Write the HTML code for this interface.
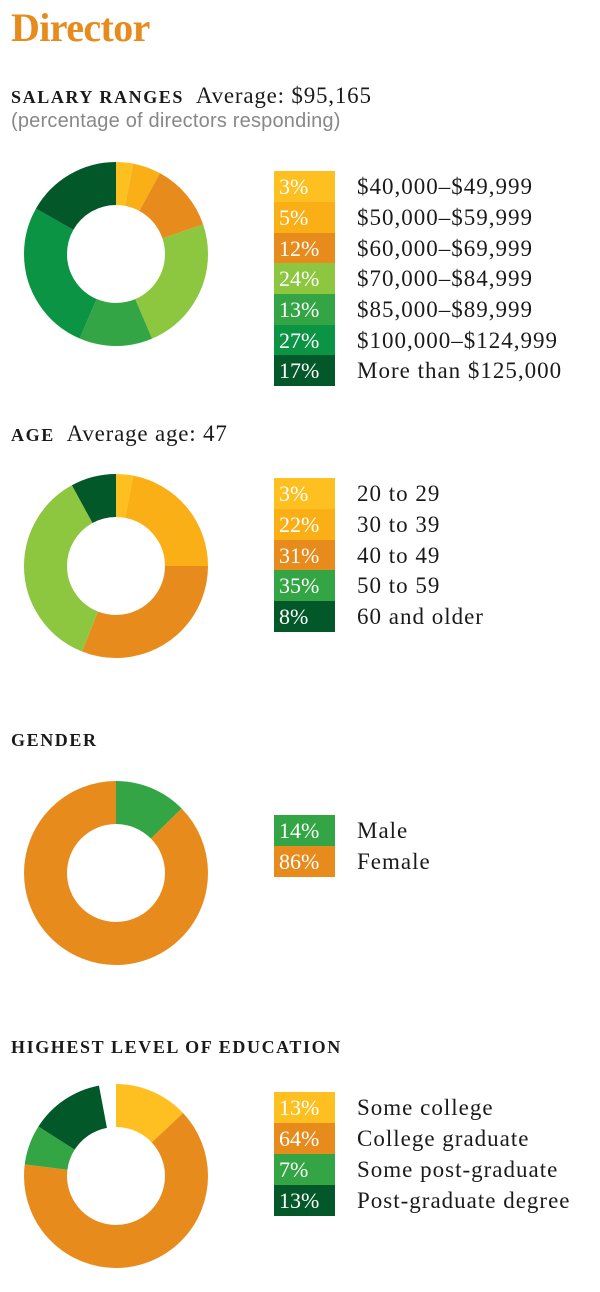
<!DOCTYPE html>
<html><head><meta charset="utf-8"><style>
body{margin:0;width:600px;height:1292px;background:#fff;position:relative;overflow:hidden;font-family:"Liberation Serif",serif;color:#222}
.a{position:absolute;white-space:nowrap}
h1{position:absolute;left:11px;top:4px;margin:0;font:bold 40px "Liberation Serif",serif;color:#e88b1d;letter-spacing:-0.6px}
.h{font-weight:bold;font-size:18px;letter-spacing:1.6px;color:#1a1a1a}
.s{font-size:23px;font-weight:normal;letter-spacing:0.8px}
.box{position:absolute;left:274px;width:61px;height:31px;color:#fff;font-size:22px;line-height:31px;padding-left:5px;box-sizing:border-box}
.lab{position:absolute;left:357px;font-size:23px;line-height:31px;color:#1a1a1a;white-space:nowrap;letter-spacing:1px}
svg{position:absolute;left:0;top:0}
</style></head><body>
<h1>Director</h1>
<div class="a h" style="left:11px;top:83px">SALARY RANGES<span class="s">&nbsp; Average: $95,165</span></div>
<div class="a" style="left:11px;top:110px;font:20px 'Liberation Sans',sans-serif;color:#888;letter-spacing:0.2px">(percentage of directors responding)</div>
<div class="a h" style="left:11px;top:421px">AGE<span class="s">&nbsp; Average age: 47</span></div>
<div class="a h" style="left:11px;top:730px">GENDER</div>
<div class="a h" style="left:11px;top:1037px">HIGHEST LEVEL OF EDUCATION</div>

<svg width="600" height="1292">
<g fill="none" stroke-width="43">
<g transform="translate(116,254) rotate(-90)">
<circle r="70.5" stroke="#fdc020" stroke-dasharray="13.16 500" stroke-dashoffset="0"/>
<circle r="70.5" stroke="#fbaf17" stroke-dasharray="21.93 500" stroke-dashoffset="-13.16"/>
<circle r="70.5" stroke="#e88b1d" stroke-dasharray="52.63 500" stroke-dashoffset="-35.09"/>
<circle r="70.5" stroke="#8dc63f" stroke-dasharray="105.26 500" stroke-dashoffset="-87.72"/>
<circle r="70.5" stroke="#33a544" stroke-dasharray="57.01 500" stroke-dashoffset="-192.98"/>
<circle r="70.5" stroke="#0b9444" stroke-dasharray="118.42 500" stroke-dashoffset="-249.99"/>
<circle r="70.5" stroke="#03582a" stroke-dasharray="74.55 500" stroke-dashoffset="-368.41"/>
</g>
<g transform="translate(116,566) rotate(-90)">
<circle r="70.5" stroke="#fdc020" stroke-dasharray="13.29 500" stroke-dashoffset="0"/>
<circle r="70.5" stroke="#fbaf17" stroke-dasharray="97.45 500" stroke-dashoffset="-13.29"/>
<circle r="70.5" stroke="#e88b1d" stroke-dasharray="137.32 500" stroke-dashoffset="-110.74"/>
<circle r="70.5" stroke="#8dc63f" stroke-dasharray="159.47 500" stroke-dashoffset="-248.06"/>
<circle r="70.5" stroke="#03582a" stroke-dasharray="35.43 500" stroke-dashoffset="-407.53"/>
</g>
<g transform="translate(116,873) rotate(-90)">
<circle r="70.5" stroke="#33a544" stroke-dasharray="56 500" stroke-dashoffset="0"/>
<circle r="70.5" stroke="#e88b1d" stroke-dasharray="386.96 500" stroke-dashoffset="-56"/>
</g>
<g transform="translate(116,1176) rotate(-90)">
<circle r="70.5" stroke="#fdc020" stroke-dasharray="57.58 500" stroke-dashoffset="0"/>
<circle r="70.5" stroke="#e88b1d" stroke-dasharray="283.49 500" stroke-dashoffset="-57.58"/>
<circle r="70.5" stroke="#33a544" stroke-dasharray="31.01 500" stroke-dashoffset="-341.07"/>
<circle r="70.5" stroke="#03582a" stroke-dasharray="57.58 500" stroke-dashoffset="-372.08"/>
</g>
</g>
</svg>

<div class="box" style="top:171px;background:#fdc020">3%</div><div class="lab" style="top:171px">$40,000–$49,999</div>
<div class="box" style="top:202px;background:#fbaf17">5%</div><div class="lab" style="top:202px">$50,000–$59,999</div>
<div class="box" style="top:233px;background:#e88b1d">12%</div><div class="lab" style="top:233px">$60,000–$69,999</div>
<div class="box" style="top:263px;background:#8dc63f">24%</div><div class="lab" style="top:263px">$70,000–$84,999</div>
<div class="box" style="top:294px;background:#33a544">13%</div><div class="lab" style="top:294px">$85,000–$89,999</div>
<div class="box" style="top:325px;background:#0b9444">27%</div><div class="lab" style="top:325px">$100,000–$124,999</div>
<div class="box" style="top:355px;background:#03582a">17%</div><div class="lab" style="top:355px">More than $125,000</div>

<div class="box" style="top:478px;background:#fdc020">3%</div><div class="lab" style="top:478px">20 to 29</div>
<div class="box" style="top:509px;background:#fbaf17">22%</div><div class="lab" style="top:509px">30 to 39</div>
<div class="box" style="top:540px;background:#e88b1d">31%</div><div class="lab" style="top:540px">40 to 49</div>
<div class="box" style="top:570px;background:#33a544">35%</div><div class="lab" style="top:570px">50 to 59</div>
<div class="box" style="top:601px;background:#03582a">8%</div><div class="lab" style="top:601px">60 and older</div>

<div class="box" style="top:815px;background:#33a544">14%</div><div class="lab" style="top:815px">Male</div>
<div class="box" style="top:846px;background:#e88b1d">86%</div><div class="lab" style="top:846px">Female</div>

<div class="box" style="top:1092px;background:#fdc020">13%</div><div class="lab" style="top:1092px">Some college</div>
<div class="box" style="top:1123px;background:#e88b1d">64%</div><div class="lab" style="top:1123px">College graduate</div>
<div class="box" style="top:1154px;background:#33a544">7%</div><div class="lab" style="top:1154px">Some post-graduate</div>
<div class="box" style="top:1185px;background:#03582a">13%</div><div class="lab" style="top:1185px">Post-graduate degree</div>
</body></html>
